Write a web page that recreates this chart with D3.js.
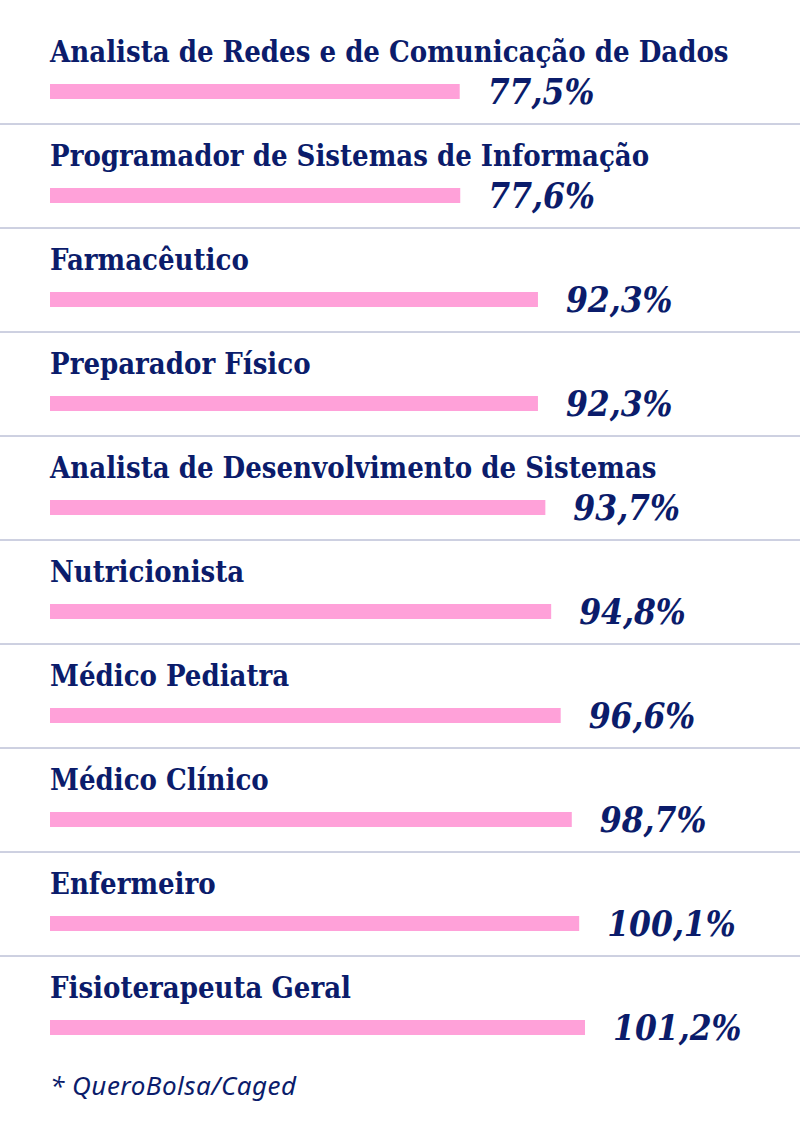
<!DOCTYPE html>
<html>
<head>
<meta charset="utf-8">
<script src="https://cdn.jsdelivr.net/npm/d3@7"></script>
<style>
  html, body { margin: 0; padding: 0; background: #fff; }
  svg { display: block; }
</style>
</head>
<body>
<svg id="chart" width="800" height="1148"></svg>
<script>
const categories = [
  "Analista de Redes e de Comunicação de Dados",
  "Programador de Sistemas de Informação",
  "Farmacêutico",
  "Preparador Físico",
  "Analista de Desenvolvimento de Sistemas",
  "Nutricionista",
  "Médico Pediatra",
  "Médico Clínico",
  "Enfermeiro",
  "Fisioterapeuta Geral"
];
const values = [77.5, 77.6, 92.3, 92.3, 93.7, 94.8, 96.6, 98.7, 100.1, 101.2];
const valueLabels = ["77,5%", "77,6%", "92,3%", "92,3%", "93,7%", "94,8%", "96,6%", "98,7%", "100,1%", "101,2%"];
const sourceNote = "* QueroBolsa/Caged";

const navy = "#0b1c6b";
const pink = "#ffa1d9";
const rule = "#9ca2c3";

const svg = d3.select("#chart");
const W = 800;

const x = d3.scaleLinear().domain([0, 101.2]).range([50, 585]);
const y = d3.scaleBand().domain(categories).range([20, 1060]).paddingInner(0).paddingOuter(0);

const rows = svg.selectAll("g.row")
  .data(categories.map((c, i) => ({ c, v: values[i], l: valueLabels[i], i })))
  .join("g")
  .attr("class", "row")
  .attr("transform", d => `translate(0,${y(d.c)})`);

rows.append("text")
  .attr("class", "cat")
  .attr("x", 50)
  .attr("y", 42)
  .attr("fill", navy)
  .style("font-family", "'DejaVu Serif Condensed', 'DejaVu Serif', serif")
  .style("font-stretch", "condensed")
  .style("font-weight", "bold")
  .style("font-size", "29px")
  .text(d => d.c);

rows.append("rect")
  .attr("x", x(0))
  .attr("y", 64)
  .attr("width", d => x(d.v) - x(0))
  .attr("height", 15)
  .attr("fill", pink);

rows.append("text")
  .attr("x", d => x(d.v) + 28)
  .attr("y", 84)
  .attr("fill", navy)
  .style("font-family", "'DejaVu Serif Condensed', 'DejaVu Serif', serif")
  .style("font-stretch", "condensed")
  .style("font-style", "italic")
  .style("font-weight", "bold")
  .style("font-size", "35px")
  .text(d => d.l);

rows.filter(d => d.i < categories.length - 1)
  .append("line")
  .attr("x1", 0).attr("x2", W)
  .attr("y1", y.bandwidth()).attr("y2", y.bandwidth())
  .attr("stroke", rule)
  .attr("stroke-width", 1);

svg.append("text")
  .attr("x", 50)
  .attr("y", 1095)
  .attr("fill", navy)
  .style("font-family", "'Noto Sans', sans-serif")
  .style("font-style", "italic")
  .style("font-size", "26px")
  .style("letter-spacing", "0.5px")
  .text(sourceNote);
</script>
</body>
</html>
